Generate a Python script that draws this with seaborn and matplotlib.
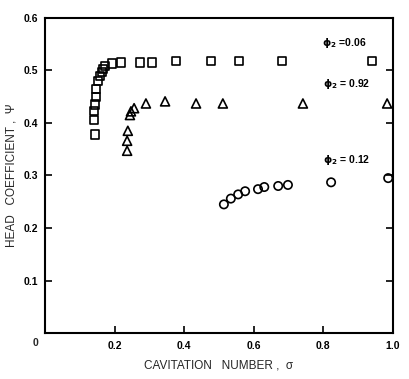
import matplotlib
matplotlib.use('Agg')
import matplotlib.pyplot as plt
import seaborn as sns
import pandas as pd

# Data
sq_sigma = [0.144, 0.141, 0.141, 0.144, 0.147, 0.147, 0.152, 0.158, 0.164, 0.167,
            0.172, 0.193, 0.218, 0.273, 0.307, 0.376, 0.477, 0.557, 0.681, 0.94]
sq_psi = [0.378, 0.405, 0.422, 0.435, 0.450, 0.465, 0.480, 0.490, 0.497, 0.503,
          0.508, 0.513, 0.515, 0.515, 0.515, 0.518, 0.518, 0.518, 0.518, 0.518]

tri_sigma = [0.236, 0.236, 0.238, 0.244, 0.247, 0.256, 0.290, 0.345, 0.434, 0.511, 0.741, 0.983]
tri_psi = [0.347, 0.366, 0.385, 0.415, 0.422, 0.428, 0.437, 0.441, 0.437, 0.437, 0.437, 0.437]

circ_sigma = [0.514, 0.534, 0.555, 0.575, 0.612, 0.630, 0.670, 0.698, 0.822, 0.986]
circ_psi = [0.245, 0.256, 0.264, 0.270, 0.274, 0.278, 0.280, 0.282, 0.287, 0.295]

labels = [r'$\mathbf{\phi_2}$ =0.06', r'$\mathbf{\phi_2}$ = 0.92', r'$\mathbf{\phi_2}$ = 0.12']
label_pos = [(0.795, 0.553), (0.80, 0.475), (0.80, 0.33)]

x_ticks = [0, 0.2, 0.4, 0.6, 0.8, 1.0]
x_ticklabels = ['', '0.2', '0.4', '0.6', '0.8', '1.0']
y_ticks = [0, 0.1, 0.2, 0.3, 0.4, 0.5, 0.6]
y_ticklabels = ['', '0.1', '0.2', '0.3', '0.4', '0.5', '0.6']

sns.set_style('white')
plt.rcParams['font.family'] = ['Liberation Sans', 'DejaVu Sans']
plt.rcParams['mathtext.fontset'] = 'dejavusans'

fig = plt.figure(figsize=(4.09, 3.79), dpi=100)
ax = fig.add_axes([0.11, 0.121, 0.851, 0.832])

series = [
    (sq_sigma, sq_psi, 's', 34),
    (tri_sigma, tri_psi, '^', 42),
    (circ_sigma, circ_psi, 'o', 36),
]
for xs, ys, m, s in series:
    df = pd.DataFrame({'sigma': xs, 'psi': ys})
    sns.scatterplot(data=df, x='sigma', y='psi', marker=m, s=s, ax=ax,
                    fc='none', ec='black', linewidth=1.2, zorder=3)

for txt, (tx, ty) in zip(labels, label_pos):
    ax.text(tx, ty, txt, fontsize=7.5, fontweight='bold', color='black',
            ha='left', va='center')

# shared origin label
ax.text(-0.028, -0.018, '0', fontsize=7.5, fontweight='bold',
        ha='center', va='center', clip_on=False)

ax.set_xlim(0, 1.0)
ax.set_ylim(0, 0.6)
ax.set_xticks(x_ticks)
ax.set_xticklabels(x_ticklabels, fontsize=7.5, fontweight='bold')
ax.set_yticks(y_ticks)
ax.set_yticklabels(y_ticklabels, fontsize=7.5, fontweight='bold')
ax.tick_params(direction='in', length=5, width=1.2, colors='black',
               right=True, left=True, bottom=True, top=False)
ax.tick_params(axis='x', pad=6)
ax.tick_params(axis='y', pad=5)
for sp in ax.spines.values():
    sp.set_visible(True)
    sp.set_color('black')
    sp.set_linewidth(1.5)

ax.set_xlabel('CAVITATION   NUMBER ,  \u03c3', fontsize=8.5, labelpad=6)
ax.set_ylabel('HEAD   COEFFICIENT ,  \u03a8', fontsize=8.5, labelpad=4)

fig.savefig('out.png', dpi=100)
